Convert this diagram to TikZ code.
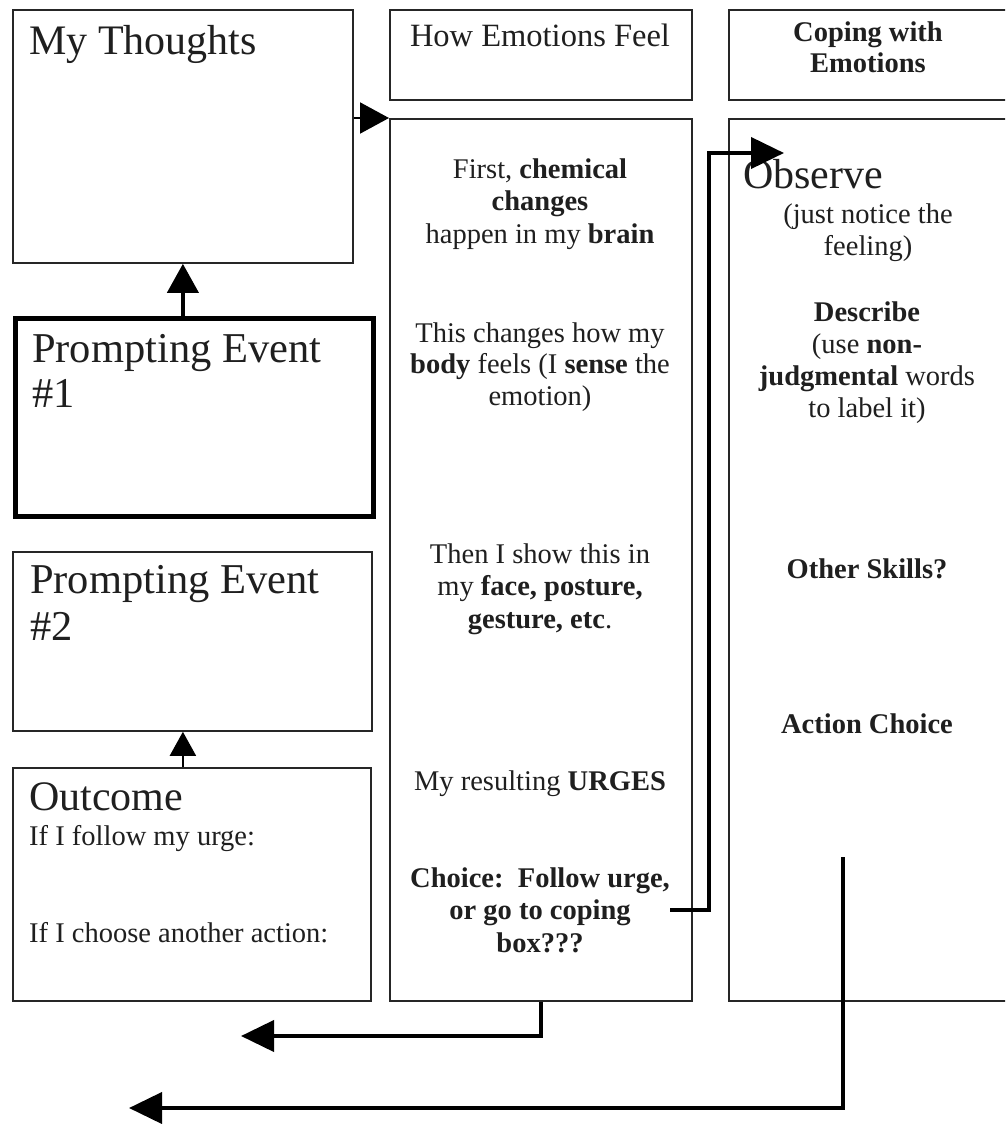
\documentclass[tikz,border=0pt]{standalone}
\usepackage{fontspec}
\setmainfont{Liberation Serif}
\usetikzlibrary{arrows.meta}
\begin{document}
\begin{tikzpicture}[x=1pt,y=-1pt,
  box/.style={draw=black!85, line width=1.8pt, rectangle, anchor=north west, inner sep=0pt},
  boldbox/.style={box, draw=black, line width=4.5pt},
  big/.style={font=\fontsize{42}{46}\selectfont, anchor=base west, inner sep=0pt, align=left, text=black!88},
  pev/.style={font=\fontsize{42}{46}\selectfont, anchor=base west, inner sep=0pt, align=left, text=black!88},
  head/.style={font=\fontsize{32.5}{36}\selectfont, anchor=base, inner sep=0pt, text=black!88},
  body/.style={font=\fontsize{28.5}{32.5}\selectfont, anchor=base, inner sep=0pt, align=center, text=black!88},
  bodyl/.style={font=\fontsize{28.5}{32.5}\selectfont, anchor=base west, inner sep=0pt, align=left, text=black!88},
  conn/.style={line width=4pt, draw=black},
  thinconn/.style={line width=2pt, draw=black},
  bigtip/.style={-{Triangle[length=33pt,width=31pt]}},
  midtip/.style={-{Triangle[length=29pt,width=31pt]}},
  smalltip/.style={-{Triangle[length=24pt,width=26pt]}}
]
\useasboundingbox (0,0) rectangle (1005,1124);
\fill[white] (0,0) rectangle (1005,1124);
\clip (0,0) rectangle (1005,1124);

% boxes
\node[box, minimum width=340pt, minimum height=253pt] (thoughts) at (12,9) {};
\node[box, minimum width=302pt, minimum height=90pt] (howfeel) at (389,9) {};
\node[box, minimum width=300pt, minimum height=90pt] (coping) at (728,9) {};
\node[box, minimum width=302pt, minimum height=882pt] (mid) at (389,118) {};
\node[box, minimum width=300pt, minimum height=882pt] (right) at (728,118) {};
\node[boldbox, minimum width=358pt, minimum height=198pt] (pe1) at (13,316) {};
\node[box, minimum width=359pt, minimum height=179pt] (pe2) at (12,551) {};
\node[box, minimum width=358pt, minimum height=233pt] (outcome) at (12,767) {};

% left texts (base anchor = last line's baseline)
\node[big] (mtt) at (29,55) {My Thoughts};
\node[pev, font=\fontsize{42.5}{45}\selectfont] (pe1t) at (32,407) {Prompting Event\\\#1};
\node[pev, font=\fontsize{42.5}{47}\selectfont] (pe2t) at (30,640) {Prompting Event\\\#2};
\node[big] (outt) at (29,810) {Outcome};
\node[bodyl] (o1) at (29,845) {If I follow my urge:};
\node[bodyl] (o2) at (29,942) {If I choose another action:};

% headings
\node[head] (hef) at (540,47) {How Emotions Feel};
\node[body, font=\fontsize{28.5}{31}\selectfont] (cwe) at (868,73) {\textbf{Coping with}\\\textbf{Emotions}};

% middle column
\node[body] (t1) at (540,243) {First, \textbf{chemical}\\\textbf{changes}\\happen in my \textbf{brain}};
\node[body, font=\fontsize{28.5}{31.5}\selectfont] (t2) at (540,405) {This changes how my\\\textbf{body} feels (I \textbf{sense} the\\emotion)};
\node[body] (t3) at (540,628) {Then I show this in\\my \textbf{face, posture,}\\\textbf{gesture, etc}.};
\node[body] (t4) at (540,790) {My resulting \textbf{URGES}};
\node[body] (choice) at (540,952) {\textbf{Choice:\ \ Follow urge,}\\\textbf{or go to coping}\\\textbf{box???}};

% right column
\node[big] (obs) at (743,188) {Observe};
\node[body, font=\fontsize{28.5}{32}\selectfont] (obsd) at (868,255) {(just notice the\\feeling)};
\node[body, font=\fontsize{28.5}{32}\selectfont] (desc) at (867,417) {\textbf{Describe}\\(use \textbf{non-}\\\textbf{judgmental} words\\to label it)};
\node[body] (other) at (867,578) {\textbf{Other Skills?}};
\node[body] (action) at (867,733) {\textbf{Action Choice}};

% connector coordinates
\coordinate (c2) at (709,153);
\coordinate (c3) at (784,153);
\coordinate (m2) at (241,1036);
\coordinate (r0) at (843,857);
\coordinate (r2) at (129,1108);

% connectors
\draw[thinconn, midtip] (thoughts.east |- mid.north west) -- (mid.north west);
\draw[conn, midtip] (thoughts.south |- pe1.north) -- (thoughts.south);
\draw[thinconn, smalltip] (thoughts.south |- outcome.north) -- (thoughts.south |- pe2.south);
\draw[conn, bigtip] (choice.east) -| (c2) -- (c3);
\draw[conn, bigtip] (mid.south) |- (m2);
\draw[conn, bigtip] (r0) |- (r2);
\end{tikzpicture}
\end{document}
